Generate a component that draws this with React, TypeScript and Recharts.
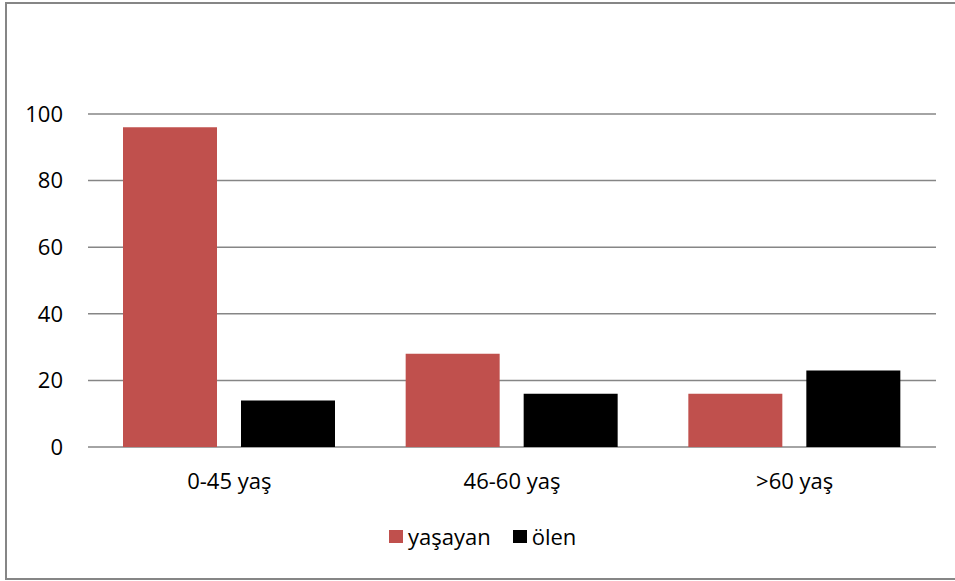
import { BarChart, Bar, XAxis, YAxis, CartesianGrid, Legend } from "recharts";

const ageGroups = ["0-45 yaş", "46-60 yaş", ">60 yaş"];
const survived = [96, 28, 16];
const died = [14, 16, 23];
const yTicks = [0, 20, 40, 60, 80, 100];

const RED = "#C0504D";
const BLACK = "#000000";
const GRID = "#868686";
const FONT = "'Open Sans', sans-serif";

const data = ageGroups.map((group, i) => ({
  group,
  yasayan: survived[i],
  olen: died[i],
}));

function LegendContent(props: any) {
  const items = props.payload || [];
  return (
    <div style={{ display: "flex", alignItems: "center", fontFamily: FONT, fontSize: 22, color: "#000" }}>
      {items.map((entry: any, i: number) => (
        <div key={i} style={{ display: "flex", alignItems: "center", marginRight: i === 0 ? 22 : 0 }}>
          <span style={{ display: "inline-block", width: 14, height: 13, background: entry.color, marginRight: 5 }} />
          <span style={{ lineHeight: "26px" }}>{entry.value}</span>
        </div>
      ))}
    </div>
  );
}

export default function App() {
  return (
    <div style={{ position: "fixed", left: 0, top: 0, width: 955, height: 581, overflow: "hidden", background: "#fff" }}>
      <div style={{ position: "absolute", left: 0, top: 0 }}>
        <BarChart
          width={955}
          height={581}
          data={data}
          margin={{ top: 114, right: 19, bottom: 104, left: 28 }}
          barSize={94}
          barGap={24}
        >
          <CartesianGrid vertical={false} stroke={GRID} strokeWidth={1.5} />
          <XAxis
            dataKey="group"
            height={30}
            axisLine={false}
            tickLine={false}
            tickSize={0}
            tickMargin={26}
            tick={{ fill: "#000", fontSize: 22, fontFamily: FONT }}
          />
          <YAxis
            width={60}
            domain={[0, 100]}
            ticks={yTicks}
            axisLine={false}
            tickLine={false}
            tickSize={0}
            tickMargin={25}
            tick={{ fill: "#000", fontSize: 22, fontFamily: FONT }}
          />
          <Legend
            layout="horizontal"
            verticalAlign="middle"
            content={<LegendContent />}
            wrapperStyle={{ position: "absolute", left: 389, top: 523, width: "auto", height: 26 }}
          />
          <Bar dataKey="yasayan" name="yaşayan" fill={RED} isAnimationActive={false} />
          <Bar dataKey="olen" name="ölen" fill={BLACK} isAnimationActive={false} />
        </BarChart>
      </div>
      {/* chart frame; right edge runs off the page */}
      <div
        style={{
          position: "absolute",
          left: 5,
          top: 2,
          width: 1000,
          height: 574,
          borderTop: `2px solid ${GRID}`,
          borderLeft: `2px solid ${GRID}`,
          borderBottom: `2px solid ${GRID}`,
          pointerEvents: "none",
        }}
      />
    </div>
  );
}
